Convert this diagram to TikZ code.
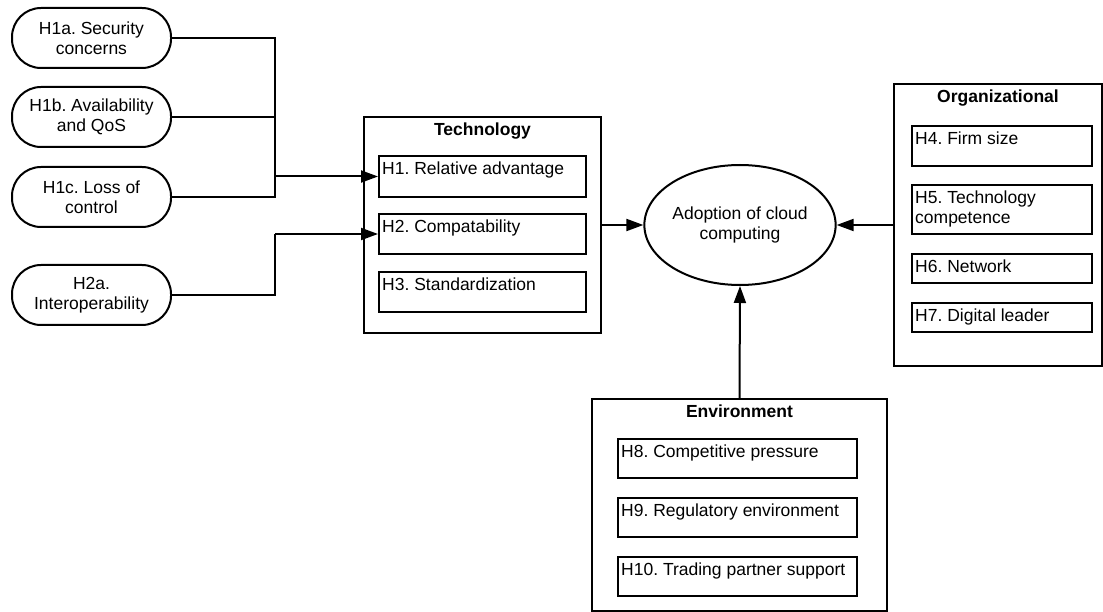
\documentclass[tikz,border=0pt]{standalone}
\usepackage{fontspec}
\setmainfont{Liberation Sans}
\usetikzlibrary{shapes.geometric,arrows.meta,calc}
\frenchspacing
\begin{document}
\begin{tikzpicture}[x=1pt,y=-1pt,
 every node/.style={font=\fontsize{17.5}{20}\selectfont},
 pill/.style={draw,line width=2pt,rounded corners=29pt,minimum width=159pt,minimum height=60pt,align=center,inner sep=0pt},
 obox/.style={draw,line width=2pt,inner sep=0pt},
 ibox/.style={draw,line width=2pt,inner sep=0pt},
 ttl/.style={font=\bfseries\fontsize{17.5}{20}\selectfont,anchor=base,inner sep=0pt},
 itxt/.style={anchor=base west,inner sep=0pt,align=left},
 conn/.style={line width=2pt},
 arr/.style={line width=2pt,-{Triangle[length=17pt,width=12pt]}}
]
\useasboundingbox (0,0) rectangle (1103,612);

% left factors
\node[pill] (h1a) at (91.5,38) {H1a. Security\\concerns};
\node[pill] (h1b) at (91.5,117) {H1b. Availability\\and QoS};
\node[pill] (h1c) at (91.5,197) {H1c. Loss of\\control};
\node[pill] (h2a) at (91.5,295) {H2a.\\Interoperability};

% Technology
\node[obox,minimum width=237pt,minimum height=216pt] (tech) at (482.5,225) {};
\node[ttl] (techt) at ($(tech.north)+(0,19.5)$) {Technology};
\node[ibox,minimum width=207pt,minimum height=41pt] (h1) at (482.5,176.5) {};
\node[itxt] (h1t) at ($(h1.north west)+(4,20)$) {H1. Relative advantage};
\node[ibox,minimum width=207pt,minimum height=40pt] (h2) at (482.5,234) {};
\node[itxt] (h2t) at ($(h2.north west)+(4,20)$) {H2. Compatability};
\node[ibox,minimum width=207pt,minimum height=40pt] (h3) at (482.5,292) {};
\node[itxt] (h3t) at ($(h3.north west)+(4,20)$) {H3. Standardization};

% Adoption
\node[draw,ellipse,line width=2pt,minimum width=159pt,minimum height=120pt,inner sep=0pt,align=center] (adopt) at (740,225) {Adoption of cloud\\computing};

% Organizational
\node[obox,minimum width=208pt,minimum height=282pt] (org) at (998,225) {};
\node[ttl] (orgt) at ($(org.north)+(0,19.5)$) {Organizational};
\node[ibox,minimum width=180pt,minimum height=40pt] (h4) at (1002,146) {};
\node[itxt] (h4t) at ($(h4.north west)+(4,20)$) {H4. Firm size};
\node[ibox,minimum width=180pt,minimum height=49pt] (h5) at (1002,209.5) {};
\node[itxt] (h5t) at ($(h5.north west)+(4,40)$) {H5. Technology\\competence};
\node[ibox,minimum width=180pt,minimum height=29pt] (h6) at (1002,268.5) {};
\node[itxt] (h6t) at ($(h6.north west)+(4,19.5)$) {H6. Network};
\node[ibox,minimum width=180pt,minimum height=29pt] (h7) at (1002,317.5) {};
\node[itxt] (h7t) at ($(h7.north west)+(4,19.5)$) {H7. Digital leader};

% Environment
\node[obox,minimum width=295pt,minimum height=212pt] (env) at (739.5,505) {};
\node[ttl] (envt) at ($(env.north)+(0,19.5)$) {Environment};
\node[ibox,minimum width=239pt,minimum height=39pt] (h8) at (737.5,458.5) {};
\node[itxt] (h8t) at ($(h8.north west)+(4,19.5)$) {H8. Competitive pressure};
\node[ibox,minimum width=239pt,minimum height=39pt] (h9) at (737.5,517.5) {};
\node[itxt] (h9t) at ($(h9.north west)+(4,19.5)$) {H9. Regulatory environment};
\node[ibox,minimum width=239pt,minimum height=39pt] (h10) at (737.5,576.5) {};
\node[itxt] (h10t) at ($(h10.north west)+(4,19.5)$) {H10. Trading partner support};

% connectors
\coordinate (j1) at (275,176.5);
\coordinate (j2) at (275,234);
\draw[conn] (h1a.east) -| (j1);
\draw[conn] (h1b.east) -| (j1);
\draw[conn] (h1c.east) -| (j1);
\draw[arr] (j1) -- (h1.west);
\draw[conn] (h2a.east) -| (j2);
\draw[arr] (j2) -- (h2.west);
\draw[arr] (tech.east) -- (adopt.west);
\draw[arr] (org.west) -- (adopt.east);
\draw[arr] (env.north) -- (adopt.south);
\end{tikzpicture}
\end{document}
